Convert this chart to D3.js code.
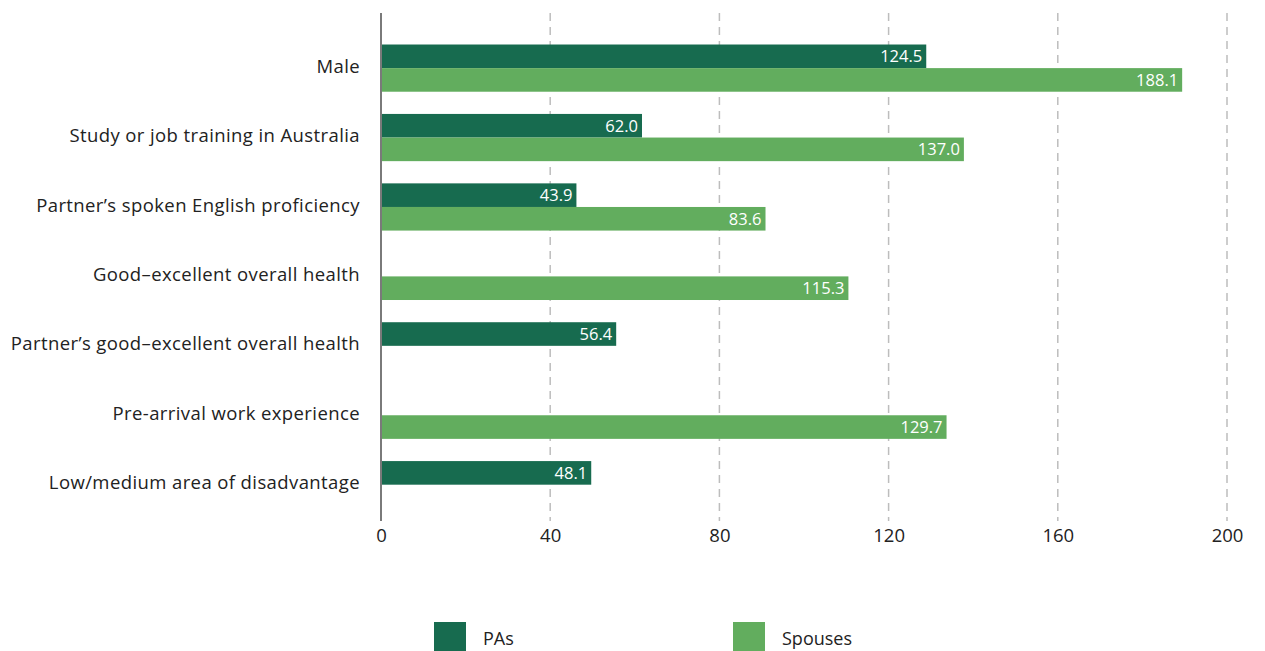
<!DOCTYPE html>
<html>
<head>
<meta charset="utf-8">
<script src="https://cdn.jsdelivr.net/npm/d3@7"></script>
<style>
  body { margin: 0; background: #fff; }
  text { font-family: "Open Sans", sans-serif; }
</style>
</head>
<body>
<div id="chart"></div>
<script>
// categories top to bottom
var categories = [
  "Male",
  "Study or job training in Australia",
  "Partner\u2019s spoken English proficiency",
  "Good\u2013excellent overall health",
  "Partner\u2019s good\u2013excellent overall health",
  "Pre-arrival work experience",
  "Low/medium area of disadvantage"
];
// bar lengths as drawn in the picture
var paValues     = [128.9, 61.7, 46.2, null, 55.6, null, 49.7];
var spouseValues = [189.4, 137.8, 90.9, 110.5, null, 133.7, null];
// printed value labels
var paLabels     = ["124.5", "62.0", "43.9", null, "56.4", null, "48.1"];
var spouseLabels = ["188.1", "137.0", "83.6", "115.3", null, "129.7", null];
var series = ["PAs", "Spouses"];
var xTicks = [0, 40, 80, 120, 160, 200];

var colors = {PAs: "#176b4f", Spouses: "#62ad5e"};

var W = 1265, H = 651;
var x0 = 381, x1 = 1227;

var svg = d3.select("#chart").append("svg")
    .attr("width", W)
    .attr("height", H);

var x = d3.scaleLinear().domain([0, 200]).range([x0, x1]);

var y = d3.scaleBand()
    .domain(categories)
    .range([33.4, 519.4])
    .paddingInner(0.32)
    .paddingOuter(0.16);

var ySub = d3.scaleBand().domain(series).range([0, y.bandwidth()]);

// gridlines
svg.append("g").selectAll("line")
    .data(xTicks.slice(1))
    .enter().append("line")
    .attr("x1", function(d) { return x(d); })
    .attr("x2", function(d) { return x(d); })
    .attr("y1", 13)
    .attr("y2", 521)
    .attr("stroke", "#bdbdbd")
    .attr("stroke-width", 1.5)
    .attr("stroke-dasharray", "8,6");

var rows = categories.map(function(c, i) {
  return [
    {cat: c, s: "PAs", v: paValues[i], lab: paLabels[i]},
    {cat: c, s: "Spouses", v: spouseValues[i], lab: spouseLabels[i]}
  ];
});
var bars = d3.merge(rows).filter(function(d) { return d.v != null; });

svg.append("g").selectAll("rect")
    .data(bars)
    .enter().append("rect")
    .attr("x", x(0))
    .attr("y", function(d) { return y(d.cat) + ySub(d.s); })
    .attr("width", function(d) { return x(d.v) - x(0); })
    .attr("height", ySub.bandwidth())
    .attr("fill", function(d) { return colors[d.s]; });

svg.append("g").selectAll("text")
    .data(bars)
    .enter().append("text")
    .attr("x", function(d) { return x(d.v) - 4; })
    .attr("y", function(d) { return y(d.cat) + ySub(d.s) + ySub.bandwidth() / 2; })
    .attr("dy", "0.36em")
    .attr("text-anchor", "end")
    .style("font-size", "16.5px")
    .style("fill", "#fff")
    .text(function(d) { return d.lab; });

// y axis line
svg.append("line")
    .attr("x1", x(0)).attr("x2", x(0))
    .attr("y1", 13).attr("y2", 521)
    .attr("stroke", "#7a7a7a")
    .attr("stroke-width", 2);

// category labels
svg.append("g").selectAll("text")
    .data(categories)
    .enter().append("text")
    .attr("x", 360)
    .attr("y", function(d) { return y(d) + y.bandwidth() / 2 - 2; })
    .attr("dy", "0.36em")
    .attr("text-anchor", "end")
    .style("font-size", "18.5px")
    .style("letter-spacing", "0.4px")
    .style("fill", "#222")
    .text(function(d) { return d; });

// x axis tick labels
var xAxis = svg.append("g")
    .attr("transform", "translate(0,524)")
    .call(d3.axisBottom(x).tickValues(xTicks).tickSize(0).tickPadding(5).tickFormat(d3.format("d")));
xAxis.select(".domain").remove();
xAxis.selectAll("text")
    .style("font-size", "18.5px")
    .style("font-family", "'Open Sans', sans-serif")
    .style("fill", "#222");

// legend
var legend = svg.append("g").selectAll("g")
    .data(series)
    .enter().append("g")
    .attr("transform", function(d, i) { return "translate(" + (434 + i * 299) + ",622)"; });
legend.append("rect")
    .attr("width", 32)
    .attr("height", 30)
    .attr("fill", function(d) { return colors[d]; });
legend.append("text")
    .attr("x", 49)
    .attr("y", 17)
    .attr("dy", "0.36em")
    .style("font-size", "18px")
    .style("font-family", "'Open Sans', sans-serif")
    .style("fill", "#222")
    .text(function(d) { return d; });
</script>
</body>
</html>
